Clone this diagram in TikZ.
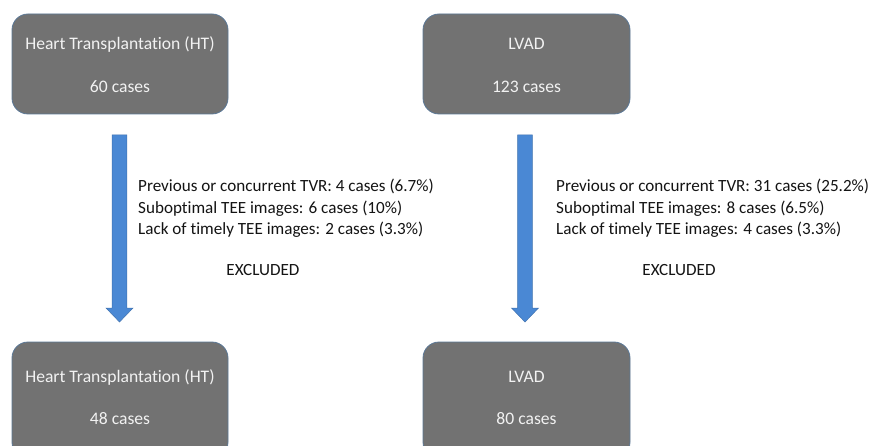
\documentclass[tikz,border=0pt]{standalone}
\usepackage{fontspec}
\setmainfont{Carlito}[Ligatures=NoCommon]
\usetikzlibrary{calc}
\definecolor{boxgray}{HTML}{727272}
\definecolor{boxedge}{HTML}{5B7896}
\definecolor{boxtext}{HTML}{F2F2F2}
\definecolor{arrowblue}{HTML}{4A88D4}
\definecolor{arrowedge}{HTML}{4173B0}
\definecolor{txt}{HTML}{141414}
\tikzset{
  card/.style={draw=boxedge, line width=0.8pt, fill=boxgray, rounded corners=16pt, inner sep=0pt},
  cardtext/.style={text=boxtext, font=\fontsize{17.6}{20}\selectfont, inner sep=0pt, anchor=center},
  note/.style={text=txt, font=\fontsize{17.1}{21.4}\selectfont, align=left, inner sep=0pt, anchor=north west},
  excl/.style={text=txt, font=\fontsize{17.1}{20}\selectfont, inner sep=0pt, anchor=center},
  bigarrow/.style={fill=arrowblue, draw=arrowedge, line width=0.5pt}
}
\begin{document}
\begin{tikzpicture}[x=1pt,y=-1pt]
\useasboundingbox (0,0) rectangle (872,446);
\clip (0,0) rectangle (872,446);
\fill[white] (0,0) rectangle (872,446);
% boxes
\node[card, minimum width=216pt, minimum height=100pt] (ht1) at (120,64) {};
\node[card, minimum width=207pt, minimum height=100pt] (lv1) at (526.5,64) {};
\node[card, minimum width=216pt, minimum height=116pt] (ht2) at (120,400) {};
\node[card, minimum width=207pt, minimum height=116pt] (lv2) at (526.5,400) {};
% box texts
\node[cardtext] (ht1a) at ($(ht1.north)+(0,31)$) {Heart Transplantation (HT)};
\node[cardtext] (ht1b) at ($(ht1.north)+(0,73)$) {60 cases};
\node[cardtext] (lv1a) at ($(lv1.north)+(0,30)$) {LVAD};
\node[cardtext] (lv1b) at ($(lv1.north)+(0,73)$) {123 cases};
\node[cardtext] (ht2a) at ($(ht2.north)+(0,36)$) {Heart Transplantation (HT)};
\node[cardtext] (ht2b) at ($(ht2.north)+(0,77)$) {48 cases};
\node[cardtext] (lv2a) at ($(lv2.north)+(0,35)$) {LVAD};
\node[cardtext] (lv2b) at ($(lv2.north)+(0,77)$) {80 cases};
% arrows
\coordinate (a1s) at (119.5,135);
\coordinate (a1e) at (119.5,322);
\coordinate (a2s) at (525,135);
\coordinate (a2e) at (525,322);
\foreach \s/\e in {a1s/a1e, a2s/a2e}{
  \path[bigarrow] let \p1=(\s), \p2=(\e) in
    (\x1-7.3pt,\y1) -- (\x1+7.3pt,\y1) -- (\x1+7.3pt,\y2+14pt) -- (\x1+13.5pt,\y2+14pt)
    -- (\x2,\y2) -- (\x1-13.5pt,\y2+14pt) -- (\x1-7.3pt,\y2+14pt) -- cycle;
}
% notes
\node[note] (n1) at (138,179) {Previous or concurrent TVR: 4 cases (6.7\%)\\Suboptimal TEE images: 6 cases (10\%)\\Lack of timely TEE images: 2 cases (3.3\%)};
\node[note] (n2) at (556,179) {Previous or concurrent TVR: 31 cases (25.2\%)\\Suboptimal TEE images: 8 cases (6.5\%)\\Lack of timely TEE images: 4 cases (3.3\%)};
\node[excl] (x1) at (263,270) {EXCLUDED};
\node[excl] (x2) at (679,270) {EXCLUDED};
\end{tikzpicture}
\end{document}
